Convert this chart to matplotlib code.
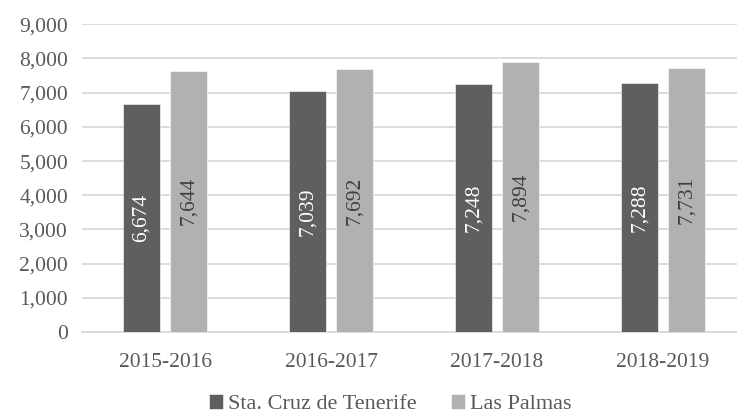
import numpy as np
import matplotlib
matplotlib.use("Agg")
from matplotlib import pyplot as plt

categories = ["2015-2016", "2016-2017", "2017-2018", "2018-2019"]
tenerife = [6674, 7039, 7248, 7288]
las_palmas = [7644, 7692, 7894, 7731]
series_names = ["Sta. Cruz de Tenerife", "Las Palmas"]
yticks = [0, 1000, 2000, 3000, 4000, 5000, 6000, 7000, 8000, 9000]

plt.rcParams['font.family'] = ['Liberation Serif', 'DejaVu Serif']

dark = '#5f5f5f'
light = '#b1b1b1'
text_col = '#595959'
grid_col = '#d9d9d9'

fig = plt.figure(figsize=(7.37, 4.18), dpi=100)
ax = fig.add_axes([82 / 737, 1 - 332 / 418, 664 / 737, (332 - 24.3) / 418])

x = np.arange(len(categories))
w = 0.223
off = 0.142
b1 = ax.bar(x - off, tenerife, w, color=dark, edgecolor='white', linewidth=0.4, zorder=3)
b2 = ax.bar(x + off, las_palmas, w, color=light, edgecolor='white', linewidth=0.4, zorder=3)

# value labels inside the bars, rotated
for bars, vals, col in [(b1, tenerife, 'white'), (b2, las_palmas, '#404040')]:
    for r, v in zip(bars, vals):
        ax.text(r.get_x() + r.get_width() / 2, v / 2, f"{v:,}", rotation=90,
                ha='center', va='center', color=col, fontsize=15.5, zorder=4)

ax.set_xlim(-0.5, len(categories) - 0.5)
ax.set_ylim(0, 9000)
ax.set_yticks(yticks)
ax.set_yticklabels([f"{t:,}" for t in yticks])
ax.set_xticks(x)
ax.set_xticklabels(categories)
ax.yaxis.grid(True, color=grid_col, linewidth=1.3, zorder=0)
ax.set_axisbelow(True)
for s in ['top', 'right', 'left']:
    ax.spines[s].set_visible(False)
ax.spines['bottom'].set_color(grid_col)
ax.spines['bottom'].set_linewidth(1.3)
ax.tick_params(axis='both', length=0, labelsize=15.5, colors=text_col, pad=10)
ax.tick_params(axis='x', pad=15)

fig.legend([b1, b2], series_names, loc='center', bbox_to_anchor=(390 / 737, 1 - 404 / 418),
           ncol=2, frameon=False, fontsize=16, labelcolor=text_col,
           handlelength=0.63, handleheight=0.63, handletextpad=0.22, columnspacing=1.55,
           borderpad=0, borderaxespad=0)

fig.savefig("out.png", dpi=100)
